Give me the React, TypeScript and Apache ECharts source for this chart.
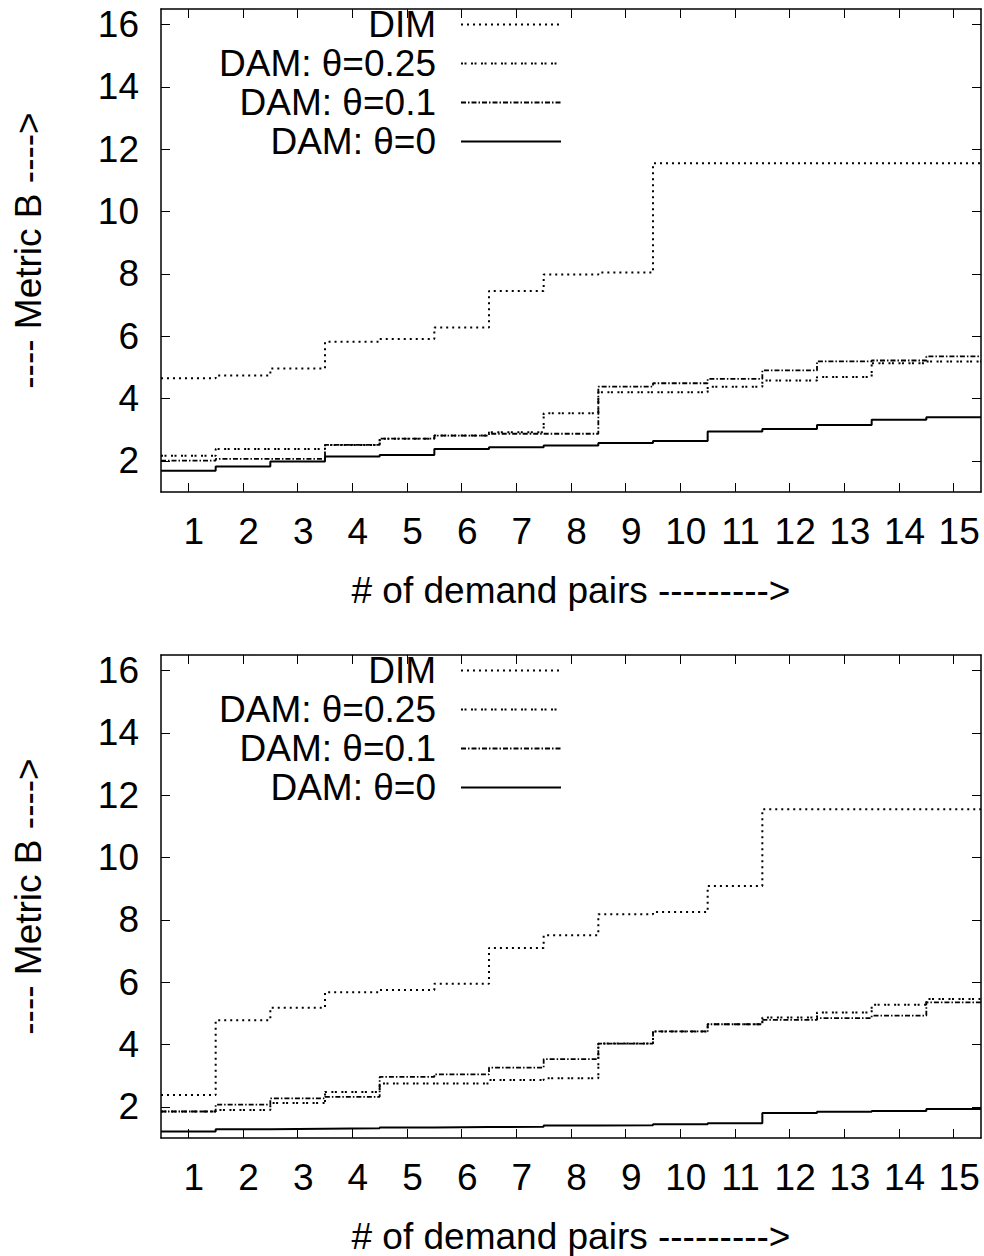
import React, { useEffect, useRef } from "react";
import * as echarts from "echarts";

const pairs = [1, 2, 3, 4, 5, 6, 7, 8, 9, 10, 11, 12, 13, 14, 15];
const yTicks = [2, 4, 6, 8, 10, 12, 14, 16];
const seriesNames = ["DIM", "DAM: θ=0.25", "DAM: θ=0.1", "DAM: θ=0"];

const topDIM = [4.65, 4.74, 4.96, 5.82, 5.91, 6.28, 7.45, 7.98, 8.04, 11.55, 11.55, 11.55, 11.55, 11.55, 11.55];
const topDAM025 = [2.16, 2.38, 2.38, 2.51, 2.71, 2.81, 2.92, 3.53, 4.2, 4.2, 4.38, 4.58, 4.69, 5.13, 5.19];
const topDAM01 = [2.01, 2.06, 2.06, 2.51, 2.71, 2.81, 2.87, 2.87, 4.38, 4.49, 4.63, 4.9, 5.19, 5.22, 5.35];
const topDAM0 = [1.68, 1.82, 1.98, 2.14, 2.19, 2.38, 2.44, 2.49, 2.57, 2.64, 2.94, 3.02, 3.15, 3.32, 3.4];

const botDIM = [2.38, 4.78, 5.18, 5.68, 5.75, 5.95, 7.1, 7.51, 8.18, 8.25, 9.09, 11.55, 11.55, 11.55, 11.55];
const botDAM025 = [1.85, 1.9, 2.12, 2.48, 2.75, 2.75, 2.86, 2.92, 4.03, 4.42, 4.65, 4.87, 5.03, 5.28, 5.46];
const botDAM01 = [1.85, 2.07, 2.27, 2.32, 2.96, 3.04, 3.26, 3.53, 4.03, 4.42, 4.65, 4.79, 4.85, 4.93, 5.35];
const botDAM0 = [1.21, 1.28, 1.3, 1.31, 1.34, 1.35, 1.36, 1.4, 1.41, 1.44, 1.47, 1.8, 1.84, 1.87, 1.93];

const xTitle = "# of demand pairs --------->";
const yTitle = "---- Metric B ---->";

const FONT = "'Liberation Sans', Arial, sans-serif";
const FS = 37;

const dashes: any[] = [[2, 4], [2, 1.5, 2, 4.5], [5, 2, 1.5, 2], "solid"];
const widths = [2, 2, 1.8, 2];

// gnuplot "histeps": each value spans [x-0.5, x+0.5]
const histeps = (vals: number[]) =>
  vals.flatMap((v, i) => [
    [pairs[i] - 0.5, v],
    [pairs[i] + 0.5, v],
  ]);

export default function App() {
  const ref = useRef<HTMLDivElement>(null);
  useEffect(() => {
    if (!ref.current) return;
    const chart = echarts.init(ref.current, null, { renderer: "svg" });
    const grids = [
      { left: 161, top: 9, width: 820, height: 483 },
      { left: 161, top: 655, width: 820, height: 483 },
    ];
    const axisLine = { show: true, lineStyle: { color: "#000", width: 1.5 } };
    const tick = (vals: number[]) => ({
      show: true,
      inside: true,
      length: 9,
      customValues: vals,
      lineStyle: { color: "#000", width: 1 },
    });
    const xAxes: any[] = [];
    const yAxes: any[] = [];
    grids.forEach((_, g) => {
      xAxes.push({
        gridIndex: g,
        type: "value",
        min: 0.5,
        max: 15.5,
        position: "bottom",
        axisLine,
        axisTick: tick(pairs),
        axisLabel: {
          show: true,
          customValues: pairs,
          margin: 21,
          padding: [0, 0, 0, 11],
          fontSize: FS,
          fontFamily: FONT,
          color: "#000",
        },
        splitLine: { show: false },
        name: xTitle,
        nameLocation: "middle",
        nameGap: 80,
        nameTextStyle: { fontSize: FS, fontFamily: FONT, color: "#000" },
      });
      xAxes.push({
        gridIndex: g,
        type: "value",
        min: 0.5,
        max: 15.5,
        position: "top",
        axisLine,
        axisTick: tick(pairs),
        axisLabel: { show: false },
        splitLine: { show: false },
      });
      yAxes.push({
        gridIndex: g,
        type: "value",
        min: 1,
        max: 16.5,
        position: "left",
        axisLine,
        axisTick: tick(yTicks),
        axisLabel: { show: true, customValues: yTicks, margin: 22, fontSize: FS, fontFamily: FONT, color: "#000" },
        splitLine: { show: false },
        name: yTitle,
        nameLocation: "middle",
        nameRotate: 90,
        nameGap: 114,
        nameTextStyle: { fontSize: FS, fontFamily: FONT, color: "#000" },
      });
      yAxes.push({
        gridIndex: g,
        type: "value",
        min: 1,
        max: 16.5,
        position: "right",
        axisLine,
        axisTick: tick(yTicks),
        axisLabel: { show: false },
        splitLine: { show: false },
      });
    });

    const panels = [
      [topDIM, topDAM025, topDAM01, topDAM0],
      [botDIM, botDAM025, botDAM01, botDAM0],
    ];
    const series: any[] = [];
    panels.forEach((vals, g) => {
      vals.forEach((v, k) => {
        series.push({
          type: "line",
          name: seriesNames[k],
          xAxisIndex: g * 2,
          yAxisIndex: g * 2,
          data: histeps(v),
          symbol: "none",
          lineStyle: { color: "#000", width: widths[k], type: dashes[k] },
          itemStyle: { color: "#000" },
        });
      });
    });

    const legendBase = {
      orient: "vertical",
      align: "right",
      right: 422,
      padding: 0,
      itemWidth: 100,
      itemHeight: 20,
      itemGap: 2,
      selectedMode: false,
      data: seriesNames,
      itemStyle: { opacity: 0 },
      textStyle: { fontSize: FS, fontFamily: FONT, color: "#000", lineHeight: 36, padding: [0, 20, 0, 0] },
    };

    chart.setOption({
      animation: false,
      backgroundColor: "#fff",
      grid: grids,
      xAxis: xAxes,
      yAxis: yAxes,
      legend: [
        { ...legendBase, top: 6 },
        { ...legendBase, top: 652 },
      ],
      series,
    });
    return () => chart.dispose();
  }, []);
  return (
    <div
      ref={ref}
      style={{ position: "absolute", left: 0, top: 0, width: 984, height: 1256, background: "#fff" }}
    />
  );
}
